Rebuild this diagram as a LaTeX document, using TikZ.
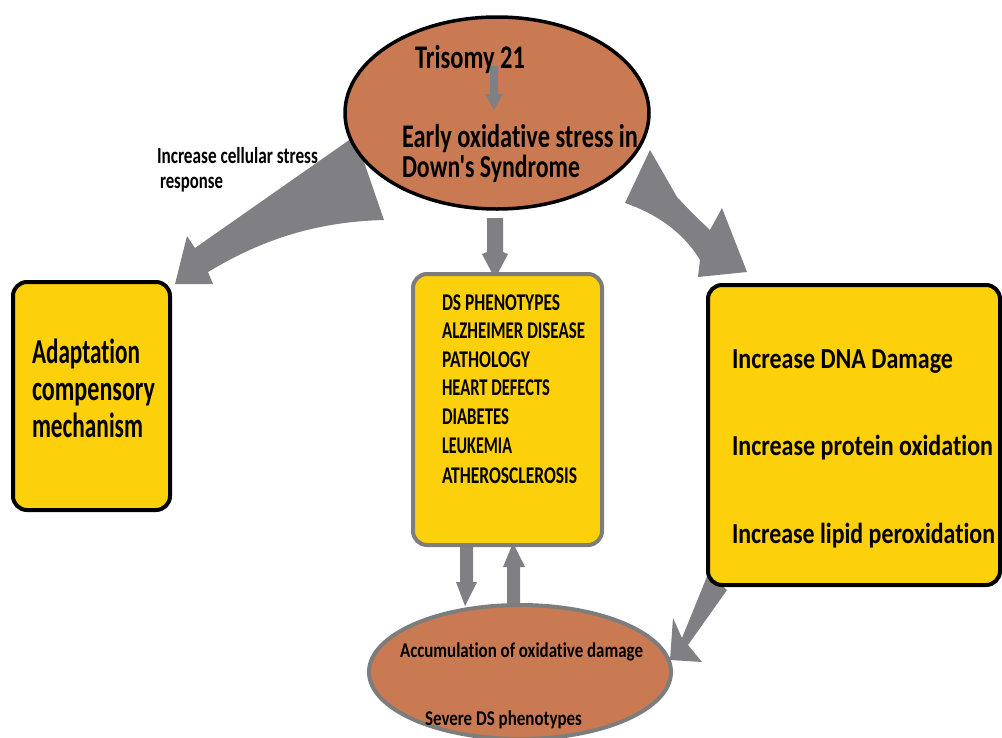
\documentclass[tikz,border=0pt]{standalone}
\usepackage{fontspec}
\setmainfont{Carlito}
\newfontfamily\cf{Carlito}[Ligatures=NoCommon]
\usepackage{graphicx}
\usetikzlibrary{shapes.geometric}
\definecolor{ylw}{RGB}{252,208,10}
\definecolor{brn}{RGB}{202,122,82}
\definecolor{arr}{RGB}{128,128,132}
\definecolor{gbord}{RGB}{125,125,125}
\newcommand{\ft}[3]{{\cf\bfseries\fontsize{#1}{#1}\selectfont\resizebox{#2pt}{\height}{#3}}}
\tikzset{
  txt/.style={anchor=base west, inner sep=0pt, outer sep=0pt},
  blockarrow/.style={fill=arr, draw=none},
  ybox/.style={draw=black, line width=4pt, fill=ylw, rounded corners=14pt},
}
\begin{document}
\begin{tikzpicture}[x=1pt,y=-1pt]
\useasboundingbox (0,0) rectangle (1002,737);
\fill[white] (0,0) rectangle (1002,737);
% block arrows
\fill[blockarrow] (355,136) -- (195,248) -- (187,236) -- (175,284) -- (213,284) -- (208,272)
   .. controls (245,250) and (300,222) .. (384,220) -- cycle;
\fill[blockarrow] (650,150) -- (677,197) .. controls (692,213) .. (710,230) -- (722,208) -- (747,272) -- (698,277) -- (700,260)
   .. controls (685,235) and (660,215) .. (625,203) -- cycle;
\fill[blockarrow] (487,218) -- (503,218) -- (503,252) -- (508,254) -- (498,273) -- (492,273) -- (482,254) -- (487,252) -- cycle;
\fill[blockarrow] (460,543) -- (473,543) -- (473,582) -- (477,582) -- (465,606) -- (456,582) -- (460,582) -- cycle;
\fill[blockarrow] (507,606) -- (520,606) -- (520,567) -- (525,567) -- (513,543) -- (503,567) -- (507,567) -- cycle;
\fill[blockarrow] (708,574) -- (727,590) -- (688,645) -- (702,662) -- (670,660) -- (673,618) -- (682,638) -- cycle;
% top ellipse
\node[ellipse, draw=black, line width=3.5pt, fill=brn, minimum width=304pt, minimum height=192pt, inner sep=0pt] (top) at (497,113) {};
\fill[arr] (490,66) -- (498,66) -- (498,94) -- (503,94) -- (494,110) -- (485,94) -- (490,94) -- cycle;
\node[txt] (t1) at (415,68) {\ft{33}{110}{Trisomy 21}};
\node[txt] (t2) at (402,147) {\ft{33}{236}{Early oxidative stress in}};
\node[txt] (t3) at (402,177) {\ft{32}{178}{Down's Syndrome}};
% label
\node[txt] (l1) at (157,163) {\ft{23}{161}{Increase cellular stress}};
\node[txt] (l2) at (160,188) {\ft{23}{63}{response}};
% left box
\draw[ybox] (13,282) rectangle (170,510);
\node[txt] (a1) at (32,363) {\ft{35}{108}{Adaptation}};
\node[txt] (a2) at (32,400) {\ft{35}{123}{compensory}};
\node[txt] (a3) at (32,437) {\ft{35}{111}{mechanism}};
% middle box
\draw[ybox, draw=gbord] (413,274) rectangle (602,545);
\node[txt] (m1) at (442,310) {\ft{24}{118}{DS PHENOTYPES}};
\node[txt] (m2) at (442,338) {\ft{24}{143}{ALZHEIMER DISEASE}};
\node[txt] (m3) at (442,367) {\ft{24}{88}{PATHOLOGY}};
\node[txt] (m4) at (442,395) {\ft{24}{108}{HEART DEFECTS}};
\node[txt] (m5) at (442,424) {\ft{24}{67}{DIABETES}};
\node[txt] (m6) at (442,453) {\ft{24}{70}{LEUKEMIA}};
\node[txt] (m7) at (442,483) {\ft{24}{135}{ATHEROSCLEROSIS}};
% right box
\draw[ybox] (708,285) rectangle (1000,585);
\node[txt] (r1) at (732,368) {\ft{29}{221}{Increase DNA Damage}};
\node[txt] (r2) at (732,455) {\ft{29}{261}{Increase protein oxidation}};
\node[txt] (r3) at (732,543) {\ft{29}{263}{Increase lipid peroxidation}};
% bottom ellipse
\node[ellipse, draw=gbord, line width=4pt, fill=brn, minimum width=302pt, minimum height=134pt, inner sep=0pt] (bot) at (520,672) {};
\node[txt] (b1) at (400,657) {\ft{21}{243}{Accumulation of oxidative damage}};
\node[txt] (b2) at (425,725) {\ft{21}{157}{Severe DS phenotypes}};
\end{tikzpicture}
\end{document}
